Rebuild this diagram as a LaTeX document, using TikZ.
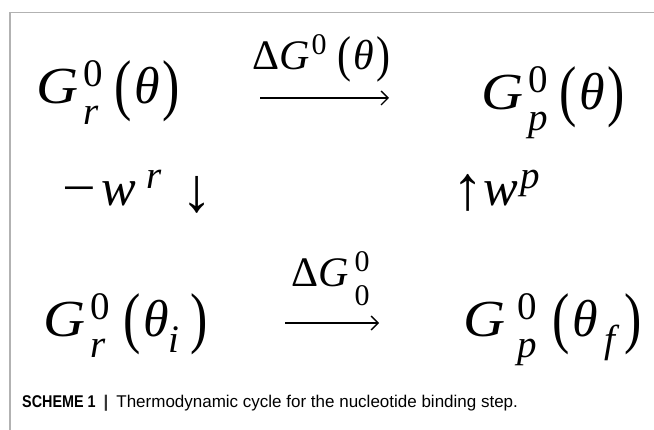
\documentclass[tikz,border=0pt]{standalone}
\usepackage{fontspec}
\newfontfamily\tms{Liberation Serif}
\newfontfamily\capfont{Liberation Sans}
\usetikzlibrary{arrows.meta}
% sup over sub, for the large states (#1 box width)
\newcommand{\scr}[3][0.40em]{\makebox[#1][l]{\rlap{\raisebox{0.34em}{\fontsize{39}{40}\selectfont #2}}\raisebox{-0.40em}{\fontsize{39}{40}\selectfont\itshape #3}}}
% one sub, for theta_i / theta_f
\newcommand{\sbs}[1]{\raisebox{-0.30em}{\fontsize{39}{40}\selectfont\itshape #1}}
% script digits at label size
\newcommand{\lsup}[1]{\raisebox{0.36em}{\fontsize{30}{30}\selectfont #1}}
% wide G, long minus, tall parentheses
\newcommand{\wG}{\scalebox{1.12}[1]{\textit{G}}}
\newcommand{\lmin}{\scalebox{1.15}[1]{−}}
\newcommand{\lpar}{\raisebox{-4pt}{\scalebox{1}[1.3]{(}}}
\newcommand{\rpar}{\raisebox{-4pt}{\scalebox{1}[1.3]{)}}}
\newcommand{\slpar}{\raisebox{-2pt}{\scalebox{1}[1.2]{(}}}
\newcommand{\srpar}{\raisebox{-2pt}{\scalebox{1}[1.2]{)}}}

\begin{document}
\begin{tikzpicture}[x=1pt, y=-1pt,
  st/.style={anchor=base west, inner sep=0pt, font=\tms\fontsize{52}{60}\selectfont},
  lb/.style={anchor=base west, inner sep=0pt, font=\tms\fontsize{42}{46}\selectfont},
  rx/.style={line width=1.7pt, -{Straight Barb[length=7pt, width=14pt, line width=1.4pt]}},
  frame/.style={gray!60, line width=1.5pt}
]
\useasboundingbox (0,0) rectangle (654,430);

% frame round the scheme
\coordinate (fbl) at (10,430);
\coordinate (ftl) at (10,12.5);
\coordinate (ftr) at (654,12.5);
\draw[frame] (fbl) -- (ftl) -- (ftr);

% the four states
\node[st] (gr)  at (36,104)  {\wG\kern5pt\scr{0}{r}\kern10pt\lpar\kern3pt\textit{θ}\kern3pt\rpar};
\node[st] (gp)  at (481,110) {\wG\kern5pt\scr{0}{p}\kern10pt\lpar\kern3pt\textit{θ}\kern3pt\rpar};
\node[st] (gri) at (43,337)  {\wG\kern5pt\scr{0}{r}\kern12pt\lpar\kern3pt\textit{θ}\sbs{i}\kern11pt\rpar};
\node[st] (gpf) at (463,337) {\wG\kern12pt\scr{0}{p}\kern14pt\lpar\kern3pt\textit{θ}\kern7pt\sbs{f}\kern9pt\rpar};

% works
\node[st] (wr) at (62,206)  {\lmin\kern6pt\textit{w}\kern10pt\raisebox{0.34em}{\fontsize{39}{40}\selectfont\itshape r}\kern20pt\raisebox{-6pt}{\scalebox{1.2}{↓}}};
\node[st] (wp) at (452,206) {\raisebox{-4pt}{\scalebox{1.2}{↑}}\textit{w}\kern2pt\raisebox{0.34em}{\fontsize{39}{40}\selectfont\itshape p}};

% top step
\node[lb] (dgt) at (252,70) {Δ\textit{G}\kern2pt\lsup{0}\kern11pt\slpar\kern2pt\textit{θ}\kern2pt\srpar};
\coordinate (t1) at (260,98);
\coordinate (t2) at (389,98);
\draw[rx] (t1) -- (t2);

% bottom step
\node[lb] (dgb) at (291,287) {Δ\textit{G}\kern6pt\rlap{\lsup{0}}\raisebox{-0.45em}{\fontsize{30}{30}\selectfont 0}};
\coordinate (b1) at (285,323);
\coordinate (b2) at (379,323);
\draw[rx] (b1) -- (b2);

% caption
\node[anchor=base west, inner sep=0pt, font=\capfont\fontsize{17}{19}\selectfont]
  (cap) at (22,408)
  {\scalebox{0.845}[1]{\textbf{SCHEME 1}}\kern8pt{\color{black!80}\textbf{|}}\kern8pt Thermodynamic cycle for the nucleotide binding step.};
\end{tikzpicture}
\end{document}
